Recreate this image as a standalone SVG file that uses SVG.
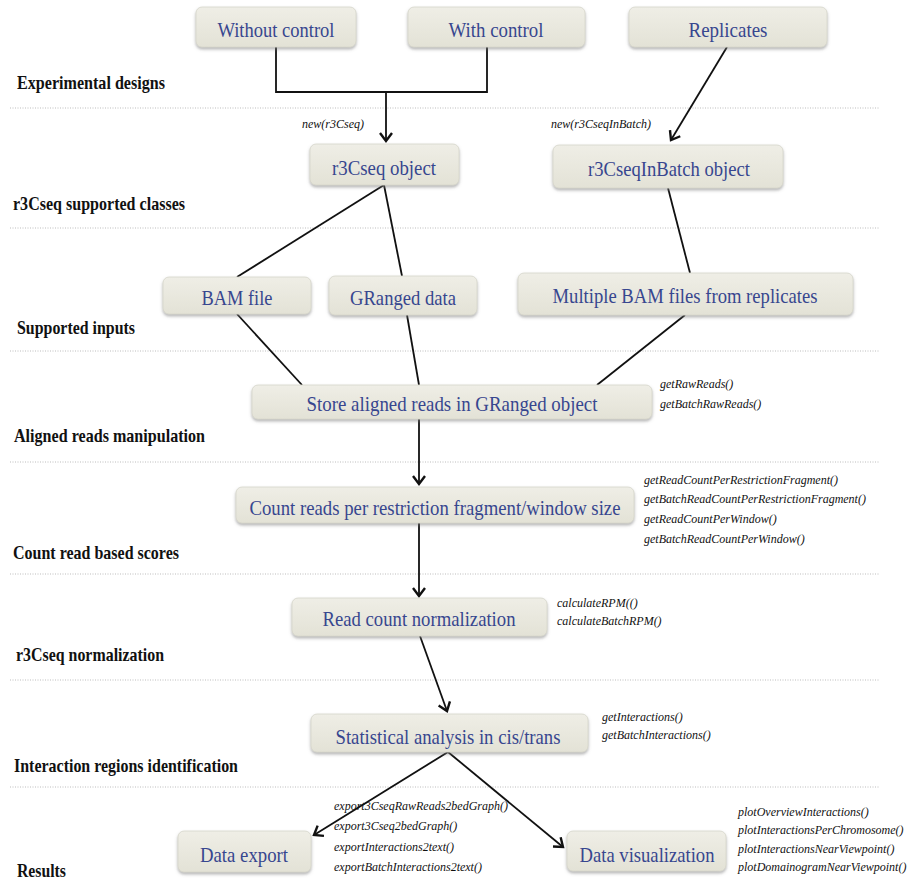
<svg xmlns="http://www.w3.org/2000/svg" width="909" height="894" viewBox="0 0 909 894">
<defs>
<linearGradient id="g" x1="0" y1="0" x2="0" y2="1">
<stop offset="0" stop-color="#efeee6"/>
<stop offset="1" stop-color="#e3e2d6"/>
</linearGradient>
<filter id="sh" x="-10%" y="-20%" width="120%" height="150%">
<feDropShadow dx="0" dy="2" stdDeviation="1.5" flood-color="#777" flood-opacity="0.55"/>
</filter>
<marker id="arr" markerUnits="userSpaceOnUse" markerWidth="20" markerHeight="20" viewBox="-10 -10 20 20" refX="0" refY="0" orient="auto">
<path d="M-8,-6 L0,0 L-8,6" fill="none" stroke="#111" stroke-width="2.4" stroke-linejoin="miter"/>
</marker>
</defs>
<style>
.box{fill:url(#g);stroke:#d6d5ca;stroke-width:0.8;filter:url(#sh)}
.nt{font-family:"Liberation Serif","Times New Roman",serif;font-size:22px;fill:#37468f;text-anchor:middle}
.sec{font-family:"Liberation Serif","Times New Roman",serif;font-size:19px;font-weight:bold;fill:#111}
.fn{font-family:"Liberation Serif","Times New Roman",serif;font-size:12px;font-style:italic;fill:#111}
.sep{stroke:#bdbdbd;stroke-width:1;stroke-dasharray:1 1.5}
.c{fill:none;stroke:#111;stroke-width:1.8}
</style>
<rect width="909" height="894" fill="#fff"/>
<g id="separators">
<line class="sep" x1="10" y1="108" x2="880" y2="108"/>
<line class="sep" x1="10" y1="228" x2="880" y2="228"/>
<line class="sep" x1="10" y1="351" x2="880" y2="351"/>
<line class="sep" x1="10" y1="462" x2="880" y2="462"/>
<line class="sep" x1="10" y1="574" x2="880" y2="574"/>
<line class="sep" x1="10" y1="680" x2="880" y2="680"/>
<line class="sep" x1="10" y1="787" x2="880" y2="787"/>
</g>
<g id="sections">
<text class="sec" x="17" y="89" textLength="148" lengthAdjust="spacingAndGlyphs">Experimental designs</text>
<text class="sec" x="13" y="210" textLength="172" lengthAdjust="spacingAndGlyphs">r3Cseq supported classes</text>
<text class="sec" x="17" y="334" textLength="118" lengthAdjust="spacingAndGlyphs">Supported inputs</text>
<text class="sec" x="14" y="442" textLength="191" lengthAdjust="spacingAndGlyphs">Aligned reads manipulation</text>
<text class="sec" x="13" y="559" textLength="166" lengthAdjust="spacingAndGlyphs">Count read based scores</text>
<text class="sec" x="16" y="661" textLength="148" lengthAdjust="spacingAndGlyphs">r3Cseq normalization</text>
<text class="sec" x="14" y="772" textLength="224" lengthAdjust="spacingAndGlyphs">Interaction regions identification</text>
<text class="sec" x="17" y="877" textLength="49" lengthAdjust="spacingAndGlyphs">Results</text>
</g>
<g id="connectors">
<path class="c" d="M276,47 V92 H487 V47"/>
<path class="c" d="M386,92 V141" marker-end="url(#arr)"/>
<path class="c" d="M727,47 L671,140" marker-end="url(#arr)"/>
<path class="c" d="M384,185 L237,277"/>
<path class="c" d="M384,185 L402,276"/>
<path class="c" d="M668,188 L690,273"/>
<path class="c" d="M237,314 L302,385"/>
<path class="c" d="M407,315 L419,385"/>
<path class="c" d="M685,315 L597,385"/>
<path class="c" d="M419,419 V484" marker-end="url(#arr)"/>
<path class="c" d="M419,523 V596" marker-end="url(#arr)"/>
<path class="c" d="M420,636 L447,711" marker-end="url(#arr)"/>
<path class="c" d="M448,752 L314,835" marker-end="url(#arr)"/>
<path class="c" d="M448,752 L563,847" marker-end="url(#arr)"/>
</g>
<g id="n-without"><rect class="box" x="196" y="7" width="160" height="40" rx="6"/><text class="nt" x="276" y="37" textLength="117" lengthAdjust="spacingAndGlyphs">Without control</text></g>
<g id="n-with"><rect class="box" x="408" y="7" width="177" height="40" rx="6"/><text class="nt" x="496" y="37" textLength="95" lengthAdjust="spacingAndGlyphs">With control</text></g>
<g id="n-replicates"><rect class="box" x="629" y="7" width="198" height="40" rx="6"/><text class="nt" x="728" y="37" textLength="79" lengthAdjust="spacingAndGlyphs">Replicates</text></g>
<g id="n-r3cseq"><rect class="box" x="310" y="144" width="149" height="41" rx="6"/><text class="nt" x="384" y="175" textLength="104" lengthAdjust="spacingAndGlyphs">r3Cseq object</text></g>
<g id="n-r3cseqinbatch"><rect class="box" x="553" y="145" width="230" height="43" rx="6"/><text class="nt" x="669" y="176" textLength="162" lengthAdjust="spacingAndGlyphs">r3CseqInBatch object</text></g>
<g id="n-bam"><rect class="box" x="163" y="277" width="148" height="37" rx="6"/><text class="nt" x="237" y="305" textLength="71" lengthAdjust="spacingAndGlyphs">BAM file</text></g>
<g id="n-granged"><rect class="box" x="329" y="276" width="148" height="39" rx="6"/><text class="nt" x="403" y="305" textLength="106" lengthAdjust="spacingAndGlyphs">GRanged data</text></g>
<g id="n-multibam"><rect class="box" x="518" y="273" width="335" height="42" rx="6"/><text class="nt" x="685" y="303" textLength="265" lengthAdjust="spacingAndGlyphs">Multiple BAM files from replicates</text></g>
<g id="n-store"><rect class="box" x="252" y="385" width="400" height="34" rx="6"/><text class="nt" x="452" y="411" textLength="291" lengthAdjust="spacingAndGlyphs">Store aligned reads in GRanged object</text></g>
<g id="n-count"><rect class="box" x="236" y="487" width="398" height="36" rx="6"/><text class="nt" x="435" y="515" textLength="371" lengthAdjust="spacingAndGlyphs">Count reads per restriction fragment/window size</text></g>
<g id="n-norm"><rect class="box" x="292" y="598" width="255" height="38" rx="6"/><text class="nt" x="419" y="626" textLength="193" lengthAdjust="spacingAndGlyphs">Read count normalization</text></g>
<g id="n-stat"><rect class="box" x="311" y="714" width="277" height="38" rx="6"/><text class="nt" x="448" y="744" textLength="225" lengthAdjust="spacingAndGlyphs">Statistical analysis in cis/trans</text></g>
<g id="n-export"><rect class="box" x="178" y="831" width="133" height="41" rx="6"/><text class="nt" x="244" y="862" textLength="88" lengthAdjust="spacingAndGlyphs">Data export</text></g>
<g id="n-vis"><rect class="box" x="567" y="831" width="159" height="40" rx="6"/><text class="nt" x="647" y="862" textLength="135" lengthAdjust="spacingAndGlyphs">Data visualization</text></g>
<g id="functions">
<text class="fn" x="302" y="128">new(r3Cseq)</text>
<text class="fn" x="551" y="128">new(r3CseqInBatch)</text>
<text class="fn" x="660" y="388">getRawReads()</text>
<text class="fn" x="660" y="408">getBatchRawReads()</text>
<text class="fn" x="644" y="484">getReadCountPerRestrictionFragment()</text>
<text class="fn" x="644" y="503">getBatchReadCountPerRestrictionFragment()</text>
<text class="fn" x="644" y="523">getReadCountPerWindow()</text>
<text class="fn" x="644" y="543">getBatchReadCountPerWindow()</text>
<text class="fn" x="557" y="607">calculateRPM(()</text>
<text class="fn" x="557" y="625">calculateBatchRPM()</text>
<text class="fn" x="602" y="721">getInteractions()</text>
<text class="fn" x="602" y="739">getBatchInteractions()</text>
<text class="fn" x="334" y="810">export3CseqRawReads2bedGraph()</text>
<text class="fn" x="334" y="830">export3Cseq2bedGraph()</text>
<text class="fn" x="334" y="851">exportInteractions2text()</text>
<text class="fn" x="334" y="871">exportBatchInteractions2text()</text>
<text class="fn" x="738" y="816">plotOverviewInteractions()</text>
<text class="fn" x="738" y="834">plotInteractionsPerChromosome()</text>
<text class="fn" x="738" y="853">plotInteractionsNearViewpoint()</text>
<text class="fn" x="738" y="871">plotDomainogramNearViewpoint()</text>
</g>
</svg>
